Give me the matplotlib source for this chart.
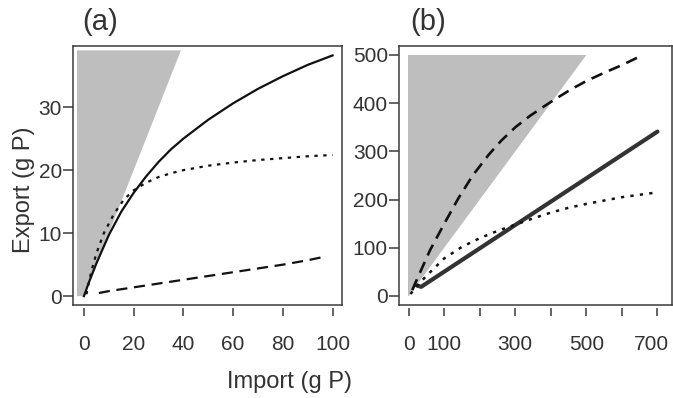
import matplotlib
matplotlib.use("Agg")
import matplotlib.pyplot as plt
import matplotlib.transforms as mtransforms

plt.rcParams['font.family'] = ['Liberation Sans', 'DejaVu Sans']

# panel (a)
a_solid_x = [0, 2, 5, 10, 15, 20, 25, 30, 35, 40, 50, 60, 70, 80, 90, 100]
a_solid_y = [0, 2.2, 5.2, 9.7, 13.4, 16.4, 19.0, 21.3, 23.3, 25.0, 28.0, 30.6, 32.9, 34.9, 36.7, 38.2]
a_dot_x = [1, 2, 3, 5, 8, 12, 16, 20, 25, 30, 35, 40, 50, 60, 70, 80, 90, 100]
a_dot_y = [0.3, 2.2, 4.0, 6.8, 10.0, 13.0, 15.3, 16.8, 18.0, 18.9, 19.5, 20.0, 20.7, 21.2, 21.6, 21.9, 22.2, 22.4]
a_dash_x = [6, 10, 20, 30, 40, 50, 60, 70, 80, 90, 96]
a_dash_y = [0.5, 0.8, 1.4, 2.0, 2.6, 3.2, 3.8, 4.4, 5.0, 5.7, 6.2]
a_shade_x = [-2.8, -2.8, 39, 0]
a_shade_y = [0, 39, 39, 0]

# panel (b)
b_solid_x = [22, 35, 700]
b_solid_y = [22, 19, 341]
b_dot_x = [5, 20, 50, 100, 150, 200, 250, 300, 350, 400, 450, 500, 550, 600, 650, 700]
b_dot_y = [4, 18, 42, 78, 102, 120, 135, 148, 161, 173, 183, 191, 198, 205, 210, 215]
b_dash_x = [10, 18, 60, 100, 140, 180, 225, 260, 300, 340, 380, 420, 460, 500, 550, 600, 645]
b_dash_y = [12, 26, 95, 150, 203, 250, 293, 322, 350, 373, 393, 412, 430, 446, 463, 479, 495]
b_shade_x = [-2, -2, 500, 0]
b_shade_y = [0, 500, 500, 0]

a_xticks = [0, 20, 40, 60, 80, 100]
a_xlabels = ['0', '20', '40', '60', '80', '100']
a_yticks = [0, 10, 20, 30]
b_xticks = [0, 100, 200, 300, 400, 500, 600, 700]
b_xlabels = ['0', '100', '', '300', '', '500', '', '700']
b_yticks = [0, 100, 200, 300, 400, 500]

GREY = '#bebebe'
BOX = '#3a3a3a'
TXT = '#333333'

fig = plt.figure(figsize=(6.73, 3.98), dpi=100)
ax1 = fig.add_axes([0.1085, 0.2337, 0.3997, 0.6508])
ax2 = fig.add_axes([0.5929, 0.2337, 0.4056, 0.6508])


def style(ax, xticks, xlabels, yticks):
    for s in ['top', 'left', 'right']:
        ax.spines[s].set_color(BOX)
        ax.spines[s].set_linewidth(1.1)
    ax.spines['bottom'].set_position(('outward', 2))
    ax.spines['bottom'].set_visible(False)
    ax.plot([0, 1], [0, 0], transform=ax.transAxes, color=BOX, lw=1.1,
            clip_on=False, solid_capstyle='projecting')
    ax.set_xticks(xticks)
    ax.set_xticklabels(xlabels)
    ax.set_yticks(yticks)
    ax.tick_params(axis='x', length=5.5, width=1.1, color=BOX, pad=14,
                   labelsize=15, labelcolor=TXT)
    ax.tick_params(axis='y', length=7, width=1.1, color=BOX, pad=1,
                   labelsize=15, labelcolor=TXT)


ax1.fill(a_shade_x, a_shade_y, color=GREY, lw=0)
ax1.plot(a_solid_x, a_solid_y, color='#111111', lw=1.6)
ax1.plot(a_dot_x, a_dot_y, color='#111111', lw=1.6, dashes=(1.5, 2.5))
ax1.plot(a_dash_x, a_dash_y, color='#111111', lw=1.6, dashes=(5, 3))
ax1.set_xlim(-4.4, 103.8)
ax1.set_ylim(-1.4, 39.7)
style(ax1, a_xticks, a_xlabels, a_yticks)
ax1.set_ylabel('Export (g P)', fontsize=17, color=TXT)
ax1.yaxis.set_label_coords(-0.142, 0.444)
ax1.text(0.035, 1.04, '(a)', transform=ax1.transAxes, fontsize=21, color=TXT,
         ha='left', va='bottom')

ax2.fill(b_shade_x, b_shade_y, color=GREY, lw=0)
ax2.plot(b_solid_x, b_solid_y, color='#333333', lw=3.0, solid_capstyle='round')
ax2.plot(b_dot_x, b_dot_y, color='#111111', lw=1.8, dashes=(1.3, 2.5))
ax2.plot(b_dash_x, b_dash_y, color='#111111', lw=1.9, dashes=(4.5, 2.7))
ax2.set_xlim(-27.3, 741)
ax2.set_ylim(-18.7, 518.7)
style(ax2, b_xticks, b_xlabels, b_yticks)
ax2.text(0.04, 1.04, '(b)', transform=ax2.transAxes, fontsize=21, color=TXT,
         ha='left', va='bottom')

# last label sits right at the figure edge, nudge it in a little
last = ax2.get_xticklabels()[-1]
last.set_transform(last.get_transform() +
                   mtransforms.ScaledTranslation(-4 / 72, 0, fig.dpi_scale_trans))

fig.text(0.43, 0.04, 'Import (g P)', fontsize=17, color=TXT, ha='center', va='center')

fig.savefig('out.png', dpi=100)
